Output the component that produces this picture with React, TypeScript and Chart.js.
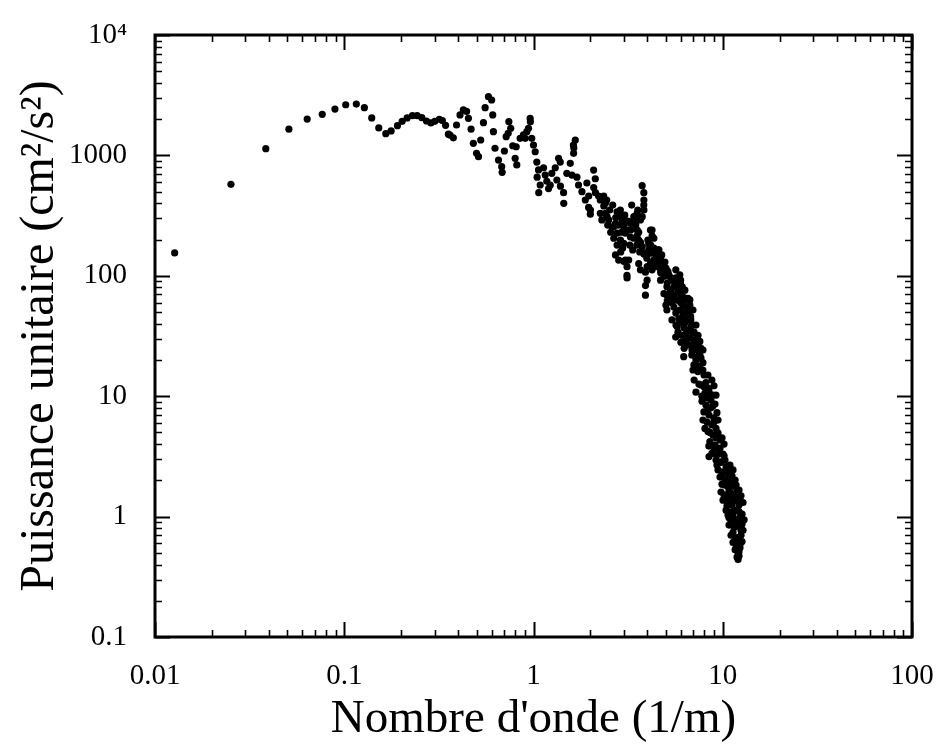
import React, { useEffect, useRef } from "react";
import { Chart, registerables } from "chart.js";

Chart.register(...registerables);

// ---- Data (wavenumber k in 1/m, unit power in cm²/s²) ----
const lowK = [
  0.0127, 0.0252, 0.0385, 0.051, 0.0637, 0.0765, 0.0893, 0.1018, 0.1158, 0.1277,
  0.1397, 0.1522, 0.1658, 0.1769, 0.191, 0.2023, 0.215, 0.2293, 0.2428, 0.257,
  0.272, 0.287, 0.301, 0.318, 0.33, 0.343,
];
const lowP = [
  155, 575, 1137, 1650, 2005, 2195, 2425, 2635, 2670, 2490,
  2048, 1690, 1514, 1596, 1766, 1920, 2048, 2136, 2136, 2058,
  1931, 1860, 1920, 1997, 1950, 1778,
];

const midK = [
  0.355, 0.362, 0.377, 0.392, 0.409, 0.426, 0.443, 0.453, 0.468, 0.481,
  0.5, 0.512, 0.526, 0.544, 0.555, 0.578, 0.601, 0.609, 0.614, 0.626,
  0.653, 0.679, 0.683, 0.702, 0.717, 0.735, 0.741, 0.758, 0.777, 0.8,
  0.81, 0.816, 0.85, 0.885, 0.904, 0.922, 0.941, 0.96, 0.963, 0.979,
  1.0, 1.021, 1.041, 1.063, 1.045, 1.085, 1.066, 1.13, 1.153, 1.176,
  1.201, 1.226, 1.25, 1.303, 1.357, 1.385, 1.329, 1.388, 1.442, 1.445,
  1.5, 1.564, 1.629, 1.625, 1.662, 1.633, 1.596, 1.696, 1.73, 1.803,
  1.878, 1.955, 1.996, 1.915, 2.078, 2.121, 2.08, 2.124, 1.958, 1.999,
];
const midP = [
  1500, 1477, 1400, 1789, 2167, 2384, 2320, 2033, 1650, 1260,
  1040, 975, 1343, 1870, 2490, 3077, 2886, 2167, 1575, 1146,
  915, 806, 724, 1088, 1430, 1527, 1906, 1680, 1203, 946,
  1180, 833, 1387, 1478, 1387, 1575, 1680, 2033, 1906, 1387,
  1220, 1072, 880, 757, 660, 568, 490, 790, 687, 610,
  530, 568, 710, 790, 945, 880, 625, 555, 490, 400,
  710, 860, 1040, 1220, 1342, 1150, 687, 660, 568, 500,
  426, 370, 325, 590, 756, 640, 540, 490, 460, 352,
];

const bandK = [
  2.208, 2.349, 2.398, 2.254, 2.352, 2.4, 2.297, 2.255, 2.447, 2.496,
  2.6, 2.71, 2.818, 2.877, 2.935, 2.763, 2.878, 2.998, 3.06, 3.25,
  3.388, 3.528, 3.672, 2.655, 2.763, 2.88, 3.0, 3.12, 3.252, 3.39,
  3.46, 3.53, 3.597, 2.656, 2.765, 2.997, 2.71, 2.818, 3.06, 3.12,
  3.118, 3.122, 3.184, 3.0, 3.75, 3.828, 3.83, 3.826, 3.832, 3.755,
  3.756, 3.905, 4.064, 4.15, 4.23, 4.325, 3.597, 3.672, 3.905, 3.985,
  3.907, 3.903, 4.418, 4.592, 4.69, 4.887, 4.692, 4.15, 4.232, 3.385,
  3.457, 3.527, 3.675, 3.83, 3.985, 4.148, 4.233, 4.327, 4.152, 4.322,
  4.5, 4.7, 4.688, 4.885, 4.98, 4.07, 4.33, 4.6, 4.76, 4.43,
  4.77, 5.01, 5.19,
];
const bandP = [
  460, 460, 400, 426, 380, 330, 291, 330, 310, 291,
  255, 272, 330, 352, 291, 340, 310, 255, 226, 272,
  291, 330, 291, 255, 226, 198, 272, 240, 210, 310,
  272, 240, 198, 205, 180, 186, 149, 135, 135, 119,
  101, 96, 135, 132, 560, 490, 426, 387, 352, 310,
  175, 155, 185, 164, 240, 205, 126, 112, 107, 92,
  83, 69, 154, 130, 112, 99, 92, 126, 112, 272,
  310, 215, 190, 152, 119, 240, 215, 170, 154, 135,
  119, 106, 142, 112, 100, 164, 157, 164, 149, 123,
  129, 116, 102,
];

const band2K = [
  2.437, 2.527, 2.621, 2.72, 2.818, 2.923, 3.035, 3.147, 3.263, 3.388,
  3.514, 3.641, 3.223, 3.343, 3.471, 3.597, 3.303, 3.557, 2.558, 2.466,
  2.959, 2.888, 4.019, 4.164, 4.431, 4.541, 3.97, 4.267, 4.705, 4.947,
];
const band2P = [
  426, 352, 387, 305, 264, 230, 320, 285, 240, 205,
  180, 158, 180, 164, 264, 230, 387, 352, 230, 264,
  170, 158, 198, 180, 140, 164, 140, 130, 121, 130,
];

const steepK = [
  5.088, 5.3, 5.52, 5.74, 5.99, 6.11, 4.89, 5.09, 5.31, 5.52,
  5.99, 6.24, 6.5, 6.77, 5.07, 5.07, 5.29, 5.53, 5.73, 5.98,
  6.23, 6.25, 6.48, 6.78, 5.74, 5.38, 5.65, 5.86, 5.5, 5.2,
  6.08, 6.55, 6.7, 5.79, 5.01, 5.38, 5.65, 5.93, 6.31, 6.16,
  6.55, 5.39, 5.66, 5.94, 6.24, 6.56, 6.87, 7.05, 5.8, 6.39,
  5.64, 6.01, 6.4, 6.7, 7.06, 7.4, 7.67, 6.25, 6.88, 6.22,
];
const steepP = [
  87, 76, 81, 87, 92, 81, 71, 62, 63, 55,
  60, 56, 50, 46, 52, 81, 72, 63, 81, 87,
  66, 43, 50, 43, 38, 92, 96, 76, 69, 65,
  69, 65, 57, 63, 57, 60, 49, 52, 63, 47,
  54, 43, 39, 41, 37, 43, 39, 34, 34, 33,
  31, 28, 29, 26.6, 29, 26.6, 25, 25, 24.2, 21.3,
];

const steep2K = [
  5.131, 5.32, 5.59, 5.79, 6.01, 6.16, 6.39, 6.62, 6.79, 6.96,
  7.13, 7.31, 7.48, 7.67, 6.55, 6.7, 6.47, 6.08, 6.31, 5.86,
  5.59, 5.32, 5.07, 5.93, 5.65, 6.31, 6.7, 6.96, 7.22, 7.4,
  7.57, 7.86, 7.05, 7.22, 6.87,
];
const steep2P = [
  109, 96, 88, 73, 68, 57, 50, 44, 38, 33.5,
  29.5, 25.5, 23.3, 20.8, 35, 30.5, 26.6, 32, 41, 44,
  63, 76, 69, 102, 112, 76, 63, 52, 39, 32,
  28.5, 24.2, 24.2, 20, 26.6,
];

const tailK = [
  6.86, 7.22, 7.57, 7.86, 7.04, 7.41, 6.96, 7.39, 7.85, 8.35,
  8.76, 7.06, 7.48, 7.96, 8.45, 8.87, 7.22, 7.76, 8.25, 8.99,
  7.77, 8.15, 8.66, 9.1, 7.95, 8.46, 8.98, 9.32, 8.26, 8.76,
  9.21, 7.86, 8.35, 8.87, 9.44, 9.91, 8.55, 9.1, 9.67, 10.16,
  8.76, 9.32, 10.03, 8.44, 8.46, 9.21, 9.67, 10.28, 10.92, 9.44,
  10.03, 10.66, 11.33, 9.67, 10.28, 10.92, 11.62, 9.91, 10.53, 11.19,
  11.76, 9.79, 10.41, 11.06, 11.9, 12.49, 10.03, 10.66, 11.48, 12.19,
  12.8, 10.41, 11.06, 11.9, 12.65, 10.79, 11.48, 12.34, 12.97, 10.79,
  11.48, 12.19, 12.8, 11.06, 11.76, 12.49, 11.33, 12.05, 12.65, 11.62,
  12.19, 11.9, 12.05, 12.34,
];
const tailP = [
  22, 21, 22, 19, 18.2, 17.8, 16.5, 16, 16.5, 15,
  13.6, 13.6, 12.6, 12, 11.3, 10.2, 10.8, 10, 9.7, 12.2,
  9.1, 8.45, 8, 8.6, 7.4, 6.98, 6.6, 7.3, 6.1, 5.77,
  5.4, 6.34, 5.1, 4.76, 4.95, 4.5, 4.2, 3.93, 3.7, 4.0,
  3.35, 3.25, 3.3, 3.85, 3.15, 2.95, 2.8, 2.95, 2.68, 2.44,
  2.35, 2.27, 2.44, 2.13, 2.01, 1.9, 2.01, 1.86, 1.8, 1.82,
  1.83, 1.6, 1.51, 1.56, 1.66, 1.49, 1.37, 1.3, 1.37, 1.25,
  1.31, 1.13, 1.09, 1.13, 1.05, 0.98, 0.94, 0.98, 0.94, 0.85,
  0.81, 0.85, 0.77, 0.7, 0.67, 0.7, 0.61, 0.58, 0.62, 0.53,
  0.51, 0.46, 0.44, 0.55,
];

const tail2K = [
  7.57, 7.96, 8.15, 8.35, 8.55, 8.05, 7.67, 8.66, 8.87, 9.21,
  8.35, 8.99, 9.44, 8.05, 8.55, 9.21, 9.67, 8.99, 9.55, 10.16,
  9.79, 10.53, 11.19, 9.32, 9.91, 10.41, 10.79, 11.48, 10.16, 10.79,
  12.19, 10.16, 10.79, 11.62, 12.34, 11.19, 11.9, 10.53, 11.48, 12.19,
  10.66, 11.33, 12.05, 12.65, 11.06, 11.76, 12.49, 11.33, 12.05, 11.62,
  12.34, 11.76, 12.05, 12.19,
];
const tail2P = [
  17.2, 15, 13, 11.7, 10.4, 10.6, 12.4, 9.3, 8.3, 10.2,
  7.68, 6.1, 6.34, 5.4, 5.0, 4.5, 4.33, 3.7, 3.4, 3.2,
  2.85, 2.52, 2.18, 2.68, 2.22, 2.6, 2.1, 1.78, 1.83, 1.66,
  1.66, 1.51, 1.45, 1.48, 1.37, 1.25, 1.37, 1.23, 1.13, 1.1,
  1.03, 1.01, 0.94, 0.87, 0.91, 0.83, 0.77, 0.74, 0.67, 0.64,
  0.59, 0.55, 0.5, 0.47,
];

const xTickValues = [0.01, 0.1, 1, 10, 100];
const xTickLabels = ["0.01", "0.1", "1", "10", "100"];
const yTickValues = [0.1, 1, 10, 100, 1000, 10000];
const yTickLabels = ["0.1", "1", "10", "100", "1000", "10\u2074"];
const xTitle = "Nombre d'onde (1/m)";
const yTitle = "Puissance unitaire (cm\u00b2/s\u00b2)";

const FONT = "'Liberation Serif', 'Times New Roman', serif";

const segmentsK = [lowK, midK, bandK, band2K, steepK, steep2K, tailK, tail2K];
const segmentsP = [lowP, midP, bandP, band2P, steepP, steep2P, tailP, tail2P];

const framePlugin = {
  id: "frameTicks",
  afterDraw(chart: any) {
    const { ctx, chartArea, scales } = chart;
    const { left, right, top, bottom } = chartArea;
    const xs = scales.x;
    const ys = scales.y;
    ctx.save();
    ctx.strokeStyle = "#000";
    ctx.lineCap = "butt";
    for (let d = -2; d <= 2; d++) {
      for (let m = 1; m <= 9; m++) {
        if (d === 2 && m > 1) break;
        const v = m * Math.pow(10, d);
        const px = Math.round(xs.getPixelForValue(v)) + 0.5;
        const major = m === 1;
        const len = major ? 15 : 7;
        ctx.lineWidth = major ? 2 : 1.6;
        ctx.beginPath();
        ctx.moveTo(px, bottom);
        ctx.lineTo(px, bottom - len);
        ctx.moveTo(px, top);
        ctx.lineTo(px, top + len);
        ctx.stroke();
      }
    }
    for (let d = -1; d <= 4; d++) {
      for (let m = 1; m <= 9; m++) {
        if (d === 4 && m > 1) break;
        const v = m * Math.pow(10, d);
        const py = Math.round(ys.getPixelForValue(v)) + 0.5;
        const major = m === 1;
        const len = major ? 15 : 7;
        ctx.lineWidth = major ? 2 : 1.6;
        ctx.beginPath();
        ctx.moveTo(left, py);
        ctx.lineTo(left + len, py);
        ctx.moveTo(right, py);
        ctx.lineTo(right - len, py);
        ctx.stroke();
      }
    }
    ctx.lineWidth = 3;
    ctx.strokeRect(left, top, right - left, bottom - top);
    ctx.restore();
  },
};

const zeroPad = (s: any) => {
  s.paddingLeft = 0;
  s.paddingRight = 0;
  s.paddingTop = 0;
  s.paddingBottom = 0;
};

export default function App() {
  const canvasRef = useRef<HTMLCanvasElement | null>(null);

  useEffect(() => {
    const canvas = canvasRef.current;
    if (!canvas) return;
    const points: { x: number; y: number }[] = [];
    segmentsK.forEach((ks, si) => {
      ks.forEach((k, i) => points.push({ x: k, y: segmentsP[si][i] }));
    });

    const chart = new Chart(canvas, {
      type: "scatter",
      data: {
        datasets: [
          {
            data: points,
            backgroundColor: "#000",
            borderWidth: 0,
            pointRadius: 3.6,
            pointHoverRadius: 3.6,
          },
        ],
      },
      options: {
        responsive: false,
        animation: false,
        events: [],
        layout: { padding: { top: 35, right: 25, left: 0, bottom: 0 } },
        plugins: {
          legend: { display: false },
          tooltip: { enabled: false },
        },
        scales: {
          x: {
            type: "logarithmic",
            min: 0.01,
            max: 100,
            grid: { display: false, drawTicks: false },
            border: { display: false },
            afterBuildTicks: (s: any) => {
              s.ticks = xTickValues.map((v) => ({ value: v }));
            },
            afterFit: (s: any) => {
              s.height = 111;
              zeroPad(s);
            },
            ticks: {
              autoSkip: false,
              maxRotation: 0,
              padding: 22,
              color: "#000",
              font: { family: FONT, size: 29 },
              callback: (v: any, i: number) => xTickLabels[i],
            },
            title: {
              display: true,
              text: xTitle,
              color: "#000",
              font: { family: FONT, size: 47 },
              padding: { top: 0, bottom: 0 },
            },
          },
          y: {
            type: "logarithmic",
            min: 0.1,
            max: 10000,
            grid: { display: false, drawTicks: false },
            border: { display: false },
            afterBuildTicks: (s: any) => {
              s.ticks = yTickValues.map((v) => ({ value: v }));
            },
            afterFit: (s: any) => {
              s.width = 155;
              zeroPad(s);
            },
            ticks: {
              autoSkip: false,
              padding: 28,
              color: "#000",
              font: { family: FONT, size: 29 },
              callback: (v: any, i: number) => yTickLabels[i],
            },
            title: {
              display: true,
              text: yTitle,
              color: "#000",
              font: { family: FONT, size: 48 },
              padding: { top: 12, bottom: 0 },
            },
          },
        },
      },
      plugins: [framePlugin],
    } as any);

    return () => chart.destroy();
  }, []);

  return (
    <div
      style={{
        position: "fixed",
        left: 0,
        top: 0,
        width: 937,
        height: 748,
        background: "#fff",
      }}
    >
      <canvas ref={canvasRef} width={937} height={748} style={{ display: "block" }} />
    </div>
  );
}
